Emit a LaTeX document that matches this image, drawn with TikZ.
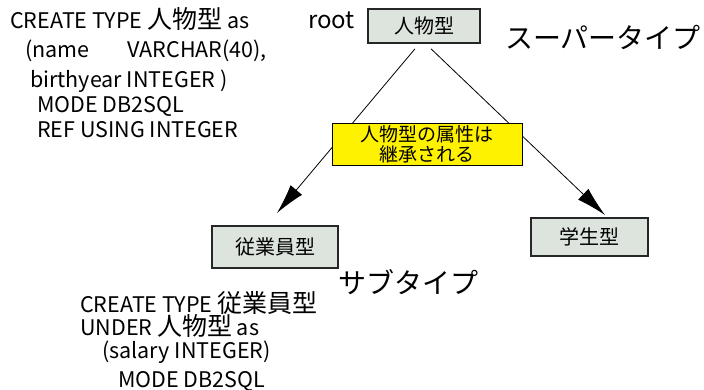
\documentclass[tikz,border=0pt]{standalone}
\usepackage{fontspec}
\setmainfont{Noto Sans CJK JP}
\usetikzlibrary{arrows.meta}
\definecolor{boxfill}{RGB}{221,227,221}
\newcommand\bigjp[1]{{\fontsize{25}{25}\selectfont #1}}
\begin{document}
\begin{tikzpicture}[x=1pt,y=-1pt,
  typebox/.style={draw=black!85,line width=1.6pt,fill=boxfill,inner sep=0pt,font=\fontsize{20}{22}\selectfont},
  notebox/.style={draw=black,line width=0.8pt,fill=yellow,inner sep=0pt,align=center,font=\fontsize{19}{20}\selectfont},
  code/.style={anchor=base west,inner sep=0pt,font=\fontsize{21.5}{25}\selectfont},
  big/.style={inner sep=0pt,font=\fontsize{28}{30}\selectfont},
  link/.style={line width=0.8pt,-{Latex[length=30pt,width=15pt]}}]
\useasboundingbox (0,0) rectangle (704,389);
% code blocks
\node[code] (a1) at (10,28) {CREATE TYPE \bigjp{人物型} as};
\node[code] (a2) at (25,57) {(name\hspace{38pt}VARCHAR(40),};
\node[code] (a3) at (30,87) {birthyear INTEGER )};
\node[code] (a4) at (37,112) {MODE DB2SQL};
\node[code] (a5) at (37,137) {REF USING INTEGER};
\node[code] (b1) at (80,312) {CREATE TYPE \bigjp{従業員型}};
\node[code] (b2) at (80,335) {UNDER \bigjp{人物型} as};
\node[code] (b3) at (102,358) {(salary INTEGER)};
\node[code] (b4) at (118,387) {MODE DB2SQL};
% labels
\node[anchor=base west,inner sep=0pt,font=\fontsize{24}{26}\selectfont] (rootlbl) at (308,28) {root};
\node[big] (super) at (603,37) {スーパータイプ};
\node[big] (sub) at (408,282) {サブタイプ};
% type boxes
\node[typebox,minimum width=112pt,minimum height=34pt] (root) at (424,26) {人物型};
\node[typebox,minimum width=126pt,minimum height=42pt] (emp) at (275,247) {従業員型};
\node[typebox,minimum width=117pt,minimum height=38pt] (stu) at (589.5,237) {学生型};
% connectors
\coordinate (lt) at (277,213);
\coordinate (rt) at (605,215);
\draw[link] ([xshift=-9pt,yshift=-5pt]root.south) -- (lt);
\draw[link] ([xshift=7pt,yshift=-5pt]root.south) -- (rt);
% note
\node[notebox,minimum width=190pt,minimum height=42pt] (note) at (427,144) {人物型の属性は\\継承される};
\end{tikzpicture}
\end{document}
